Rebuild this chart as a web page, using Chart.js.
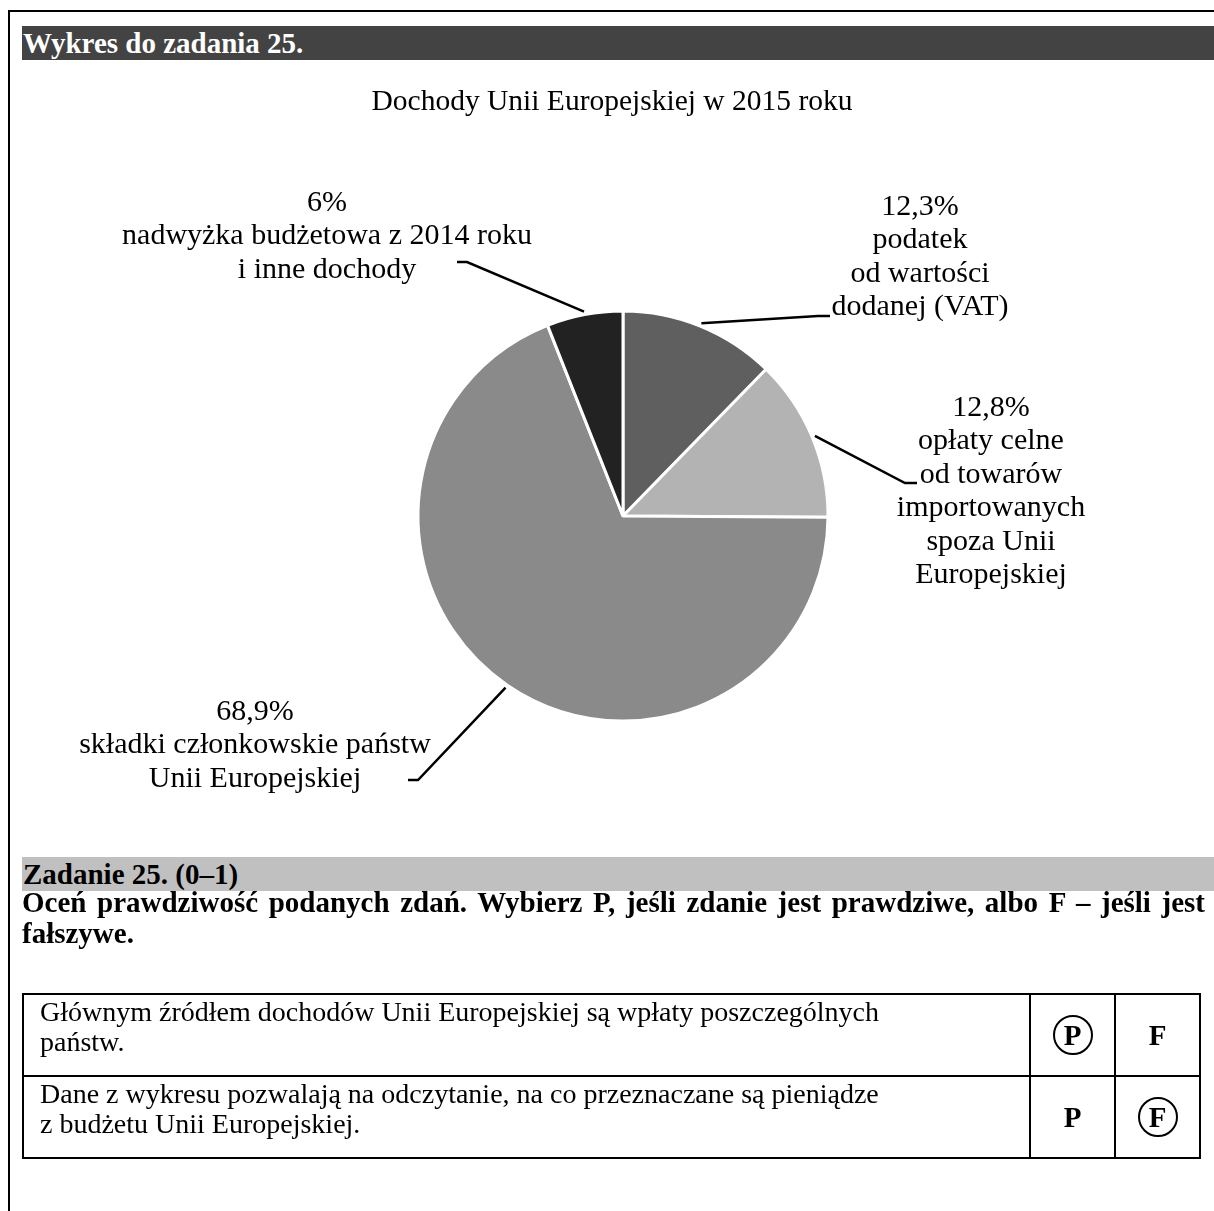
<!DOCTYPE html>
<html lang="pl">
<head>
<meta charset="utf-8">
<script src="https://cdn.jsdelivr.net/npm/chart.js@4.4.1/dist/chart.umd.min.js"></script>
<style>
  html, body { margin: 0; padding: 0; background: #fff; }
  body { width: 1214px; height: 1211px; position: relative; overflow: hidden;
         font-family: "Liberation Serif", "Times New Roman", serif; color: #000; }
  #chart { position: absolute; left: 0; top: 0; width: 1214px; height: 1211px; }
  .abs { position: absolute; }
  .frame-top  { left: 8px; top: 10px; right: 0; height: 2px; background: #000; }
  .frame-left { left: 8px; top: 10px; width: 2px; bottom: 0; background: #000; }
  .bar { left: 22px; right: 0; font-weight: bold; font-size: 29px; line-height: 34px; padding-left: 1px; }
  .bar.dark  { top: 26px; background: #434343; color: #fff; }
  .bar.light { top: 857px; background: #c0c0c0; color: #000; }
  .title { left: 0; width: 1224px; top: 82px; text-align: center; font-size: 29.5px; line-height: 36px; }
  .task { left: 22px; top: 887px; width: 1183px; font-weight: bold; font-size: 29px;
          line-height: 31px; text-align: justify; }
  table { position: absolute; left: 22px; top: 993px; border-collapse: collapse; }
  td { border: 2px solid #000; font-size: 28px; line-height: 30px; height: 80px; padding: 0; }
  td.txt { width: 1007px; vertical-align: top; padding: 2px 0 0 16px; box-sizing: border-box; }
  td.pf  { width: 83px; text-align: center; font-weight: bold; font-size: 29px; }
  .ring { display: inline-block; width: 36px; height: 36px; line-height: 37px;
          border: 2.5px solid #000; border-radius: 50%; }
</style>
</head>
<body>
<canvas id="chart" width="1214" height="1211"></canvas>

<div class="abs frame-top"></div>
<div class="abs frame-left"></div>
<div class="abs bar dark">Wykres do zadania 25.</div>
<div class="abs title" id="chart-title"></div>
<div class="abs bar light">Zadanie 25. (0–1)</div>
<div class="abs task">Oceń prawdziwość podanych zdań. Wybierz P, jeśli zdanie jest prawdziwe, albo F – jeśli jest fałszywe.</div>
<table>
  <tr>
    <td class="txt">Głównym źródłem dochodów Unii Europejskiej są wpłaty poszczególnych<br>państw.</td>
    <td class="pf"><span class="ring">P</span></td>
    <td class="pf">F</td>
  </tr>
  <tr>
    <td class="txt">Dane z wykresu pozwalają na odczytanie, na co przeznaczane są pieniądze<br>z budżetu Unii Europejskiej.</td>
    <td class="pf">P</td>
    <td class="pf"><span class="ring">F</span></td>
  </tr>
</table>

<script>
// -------------------------------------------------------------------
// Data
// -------------------------------------------------------------------
const TITLE = "Dochody Unii Europejskiej w 2015 roku";

// slices clockwise from 12 o'clock
const categories = [
  "podatek od wartości dodanej (VAT)",
  "opłaty celne od towarów importowanych spoza Unii Europejskiej",
  "składki członkowskie państw Unii Europejskiej",
  "nadwyżka budżetowa z 2014 roku i inne dochody"
];
const shares      = [12.3, 12.8, 68.9, 6];
const shareLabels = ["12,3%", "12,8%", "68,9%", "6%"];
const labelLines  = [
  ["podatek", "od wartości", "dodanej (VAT)"],
  ["opłaty celne", "od towarów", "importowanych", "spoza Unii", "Europejskiej"],
  ["składki członkowskie państw", "Unii Europejskiej"],
  ["nadwyżka budżetowa z 2014 roku", "i inne dochody"]
];

// -------------------------------------------------------------------
// Style / label placement (offsets from the pie centre)
// -------------------------------------------------------------------
const sliceColors = ["#5f5f5f", "#b3b3b3", "#8a8a8a", "#222222"];
const LABEL_FONT  = "30px 'Liberation Serif', 'Times New Roman', serif";
const LINE_H      = 33.5;

const callouts = [
  { elbow: [195, -200], end: [207, -200], tx: 297, ty: -309 },
  { elbow: [282,  -33], end: [294,  -33], tx: 368, ty: -108 },
  { elbow: [-205, 264], end: [-215, 264], tx: -368, ty: 196 },
  { elbow: [-156, -254], end: [-166, -254], tx: -296, ty: -313 }
];

document.getElementById("chart-title").textContent = TITLE;

// -------------------------------------------------------------------
// Callout plugin
// -------------------------------------------------------------------
const calloutPlugin = {
  id: "callouts",
  afterDatasetsDraw(chart) {
    const ctx  = chart.ctx;
    const arcs = chart.getDatasetMeta(0).data;
    ctx.save();
    arcs.forEach((arc, i) => {
      const { x, y, startAngle, endAngle, outerRadius } =
        arc.getProps(["x", "y", "startAngle", "endAngle", "outerRadius"], true);
      const mid = (startAngle + endAngle) / 2;
      const c   = callouts[i];

      ctx.strokeStyle = "#000";
      ctx.lineWidth   = 2.5;
      ctx.beginPath();
      ctx.moveTo(x + Math.cos(mid) * (outerRadius + 3), y + Math.sin(mid) * (outerRadius + 3));
      ctx.lineTo(x + c.elbow[0], y + c.elbow[1]);
      ctx.lineTo(x + c.end[0], y + c.end[1]);
      ctx.stroke();

      ctx.font         = LABEL_FONT;
      ctx.fillStyle    = "#000";
      ctx.textAlign    = "center";
      ctx.textBaseline = "middle";
      [shareLabels[i], ...labelLines[i]].forEach((t, k) => {
        ctx.fillText(t, x + c.tx, y + c.ty + k * LINE_H);
      });
    });
    ctx.restore();
  }
};

// -------------------------------------------------------------------
// Chart
// -------------------------------------------------------------------
new Chart(document.getElementById("chart"), {
  type: "pie",
  data: {
    labels: categories,
    datasets: [{
      data:            shares,
      backgroundColor: sliceColors,
      borderColor:     "#ffffff",
      borderWidth:     3,
      radius:          205,
      hoverOffset:     0
    }]
  },
  options: {
    responsive: false,
    animation:  false,
    events:     [],
    layout: { padding: { left: 32, right: 0, top: 129, bottom: 308 } },
    plugins: {
      legend:  { display: false },
      tooltip: { enabled: false },
      title:   { display: false }
    }
  },
  plugins: [calloutPlugin]
});
</script>
</body>
</html>
